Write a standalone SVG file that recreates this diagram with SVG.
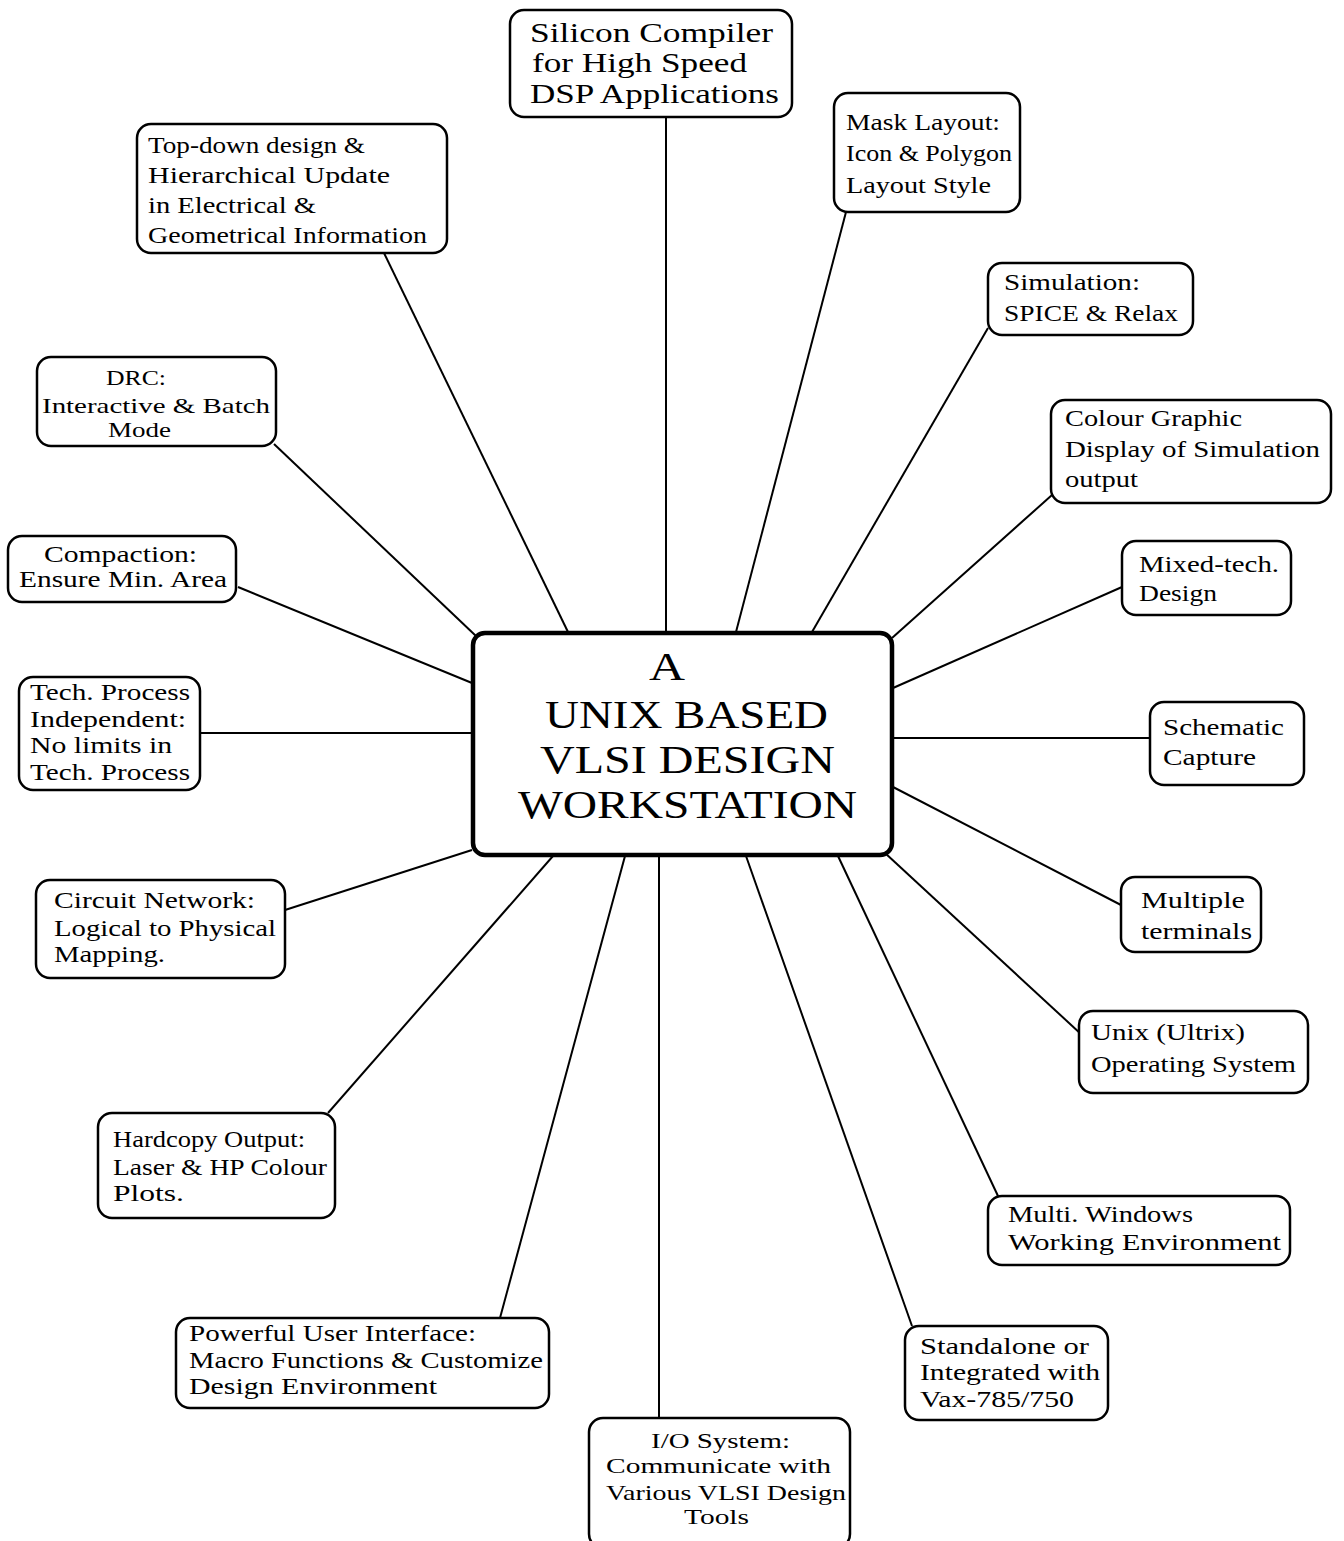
<svg xmlns="http://www.w3.org/2000/svg" width="1344" height="1541" viewBox="0 0 1344 1541">
  <style>
    .bg { fill: #ffffff; }
    .node rect { fill: #ffffff; stroke: #000000; stroke-width: 2.5; }
    .hub rect { fill: #ffffff; stroke: #000000; stroke-width: 4.5; }
    .edges line { stroke: #000000; stroke-width: 2; fill: none; }
    text { font-family: "Liberation Serif", "DejaVu Serif", serif; fill: #000000; }
    .lbl { font-size: 24px; }
    .lbl-sm { font-size: 22px; }
    .lbl-big { font-size: 27px; }
    .title { font-size: 40px; }
  </style>
  <rect class="bg" x="0" y="0" width="1344" height="1541"/>

  <!-- connectors: each spoke runs from a feature box to the central workstation box -->
  <g id="connectors" class="edges">
    <line x1="666" y1="117" x2="666" y2="632"/>
    <line x1="384" y1="253" x2="568" y2="632"/>
    <line x1="846" y1="212" x2="736" y2="632"/>
    <line x1="988" y1="328" x2="812" y2="632"/>
    <line x1="1052" y1="495" x2="892" y2="638"/>
    <line x1="1122" y1="587" x2="893" y2="688"/>
    <line x1="892" y1="738" x2="1150" y2="738"/>
    <line x1="893" y1="787" x2="1121" y2="905"/>
    <line x1="885" y1="853" x2="1082" y2="1035"/>
    <line x1="838" y1="856" x2="998" y2="1196"/>
    <line x1="746" y1="856" x2="912" y2="1326"/>
    <line x1="659" y1="856" x2="659" y2="1418"/>
    <line x1="625" y1="856" x2="500" y2="1318"/>
    <line x1="553" y1="856" x2="328" y2="1113"/>
    <line x1="472" y1="850" x2="285" y2="910"/>
    <line x1="200" y1="733" x2="472" y2="733"/>
    <line x1="238" y1="587" x2="472" y2="683"/>
    <line x1="274" y1="444" x2="476" y2="636"/>
  </g>

  <!-- central hub -->
  <g id="hub" class="hub">
    <rect x="473" y="633" width="419" height="222" rx="12"/>
    <text class="title" x="649" y="680" textLength="36" lengthAdjust="spacingAndGlyphs">A</text>
    <text class="title" x="545" y="728" textLength="283" lengthAdjust="spacingAndGlyphs">UNIX BASED</text>
    <text class="title" x="540" y="773" textLength="295" lengthAdjust="spacingAndGlyphs">VLSI DESIGN</text>
    <text class="title" x="518" y="818" textLength="339" lengthAdjust="spacingAndGlyphs">WORKSTATION</text>
  </g>

  <g id="silicon-compiler" class="node">
    <rect x="510" y="10" width="282" height="107" rx="14"/>
    <text class="lbl-big" x="530" y="42" textLength="243" lengthAdjust="spacingAndGlyphs">Silicon Compiler</text>
    <text class="lbl-big" x="532" y="72" textLength="215" lengthAdjust="spacingAndGlyphs">for High Speed</text>
    <text class="lbl-big" x="530" y="103" textLength="249" lengthAdjust="spacingAndGlyphs">DSP Applications</text>
  </g>

  <g id="top-down" class="node">
    <rect x="137" y="124" width="310" height="129" rx="14"/>
    <text class="lbl" x="148" y="153" textLength="217" lengthAdjust="spacingAndGlyphs">Top-down design &amp;</text>
    <text class="lbl" x="148" y="183" textLength="242" lengthAdjust="spacingAndGlyphs">Hierarchical Update</text>
    <text class="lbl" x="148" y="213" textLength="168" lengthAdjust="spacingAndGlyphs">in Electrical &amp;</text>
    <text class="lbl" x="148" y="243" textLength="279" lengthAdjust="spacingAndGlyphs">Geometrical Information</text>
  </g>

  <g id="mask-layout" class="node">
    <rect x="834" y="93" width="186" height="119" rx="14"/>
    <text class="lbl" x="846" y="130" textLength="154" lengthAdjust="spacingAndGlyphs">Mask Layout:</text>
    <text class="lbl" x="846" y="161" textLength="166" lengthAdjust="spacingAndGlyphs">Icon &amp; Polygon</text>
    <text class="lbl" x="846" y="193" textLength="145" lengthAdjust="spacingAndGlyphs">Layout Style</text>
  </g>

  <g id="simulation" class="node">
    <rect x="988" y="263" width="205" height="72" rx="14"/>
    <text class="lbl" x="1004" y="290" textLength="136" lengthAdjust="spacingAndGlyphs">Simulation:</text>
    <text class="lbl" x="1004" y="321" textLength="174" lengthAdjust="spacingAndGlyphs">SPICE &amp; Relax</text>
  </g>

  <g id="colour-graphic" class="node">
    <rect x="1051" y="400" width="280" height="103" rx="14"/>
    <text class="lbl" x="1065" y="426" textLength="177" lengthAdjust="spacingAndGlyphs">Colour Graphic</text>
    <text class="lbl" x="1065" y="457" textLength="255" lengthAdjust="spacingAndGlyphs">Display of Simulation</text>
    <text class="lbl" x="1065" y="487" textLength="73" lengthAdjust="spacingAndGlyphs">output</text>
  </g>

  <g id="mixed-tech" class="node">
    <rect x="1122" y="541" width="169" height="74" rx="14"/>
    <text class="lbl" x="1139" y="572" textLength="140" lengthAdjust="spacingAndGlyphs">Mixed-tech.</text>
    <text class="lbl" x="1139" y="601" textLength="78" lengthAdjust="spacingAndGlyphs">Design</text>
  </g>

  <g id="schematic-capture" class="node">
    <rect x="1150" y="702" width="154" height="83" rx="14"/>
    <text class="lbl" x="1163" y="735" textLength="121" lengthAdjust="spacingAndGlyphs">Schematic</text>
    <text class="lbl" x="1163" y="765" textLength="93" lengthAdjust="spacingAndGlyphs">Capture</text>
  </g>

  <g id="multiple-terminals" class="node">
    <rect x="1121" y="877" width="140" height="75" rx="14"/>
    <text class="lbl" x="1141" y="908" textLength="104" lengthAdjust="spacingAndGlyphs">Multiple</text>
    <text class="lbl" x="1141" y="939" textLength="111" lengthAdjust="spacingAndGlyphs">terminals</text>
  </g>

  <g id="unix-ultrix" class="node">
    <rect x="1079" y="1011" width="229" height="82" rx="14"/>
    <text class="lbl" x="1091" y="1040" textLength="154" lengthAdjust="spacingAndGlyphs">Unix (Ultrix)</text>
    <text class="lbl" x="1091" y="1072" textLength="205" lengthAdjust="spacingAndGlyphs">Operating System</text>
  </g>

  <g id="multi-windows" class="node">
    <rect x="988" y="1196" width="302" height="69" rx="14"/>
    <text class="lbl" x="1008" y="1222" textLength="185" lengthAdjust="spacingAndGlyphs">Multi. Windows</text>
    <text class="lbl" x="1008" y="1250" textLength="273" lengthAdjust="spacingAndGlyphs">Working Environment</text>
  </g>

  <g id="standalone" class="node">
    <rect x="905" y="1326" width="203" height="94" rx="14"/>
    <text class="lbl" x="920" y="1354" textLength="169" lengthAdjust="spacingAndGlyphs">Standalone or</text>
    <text class="lbl" x="920" y="1380" textLength="180" lengthAdjust="spacingAndGlyphs">Integrated with</text>
    <text class="lbl" x="920" y="1407" textLength="154" lengthAdjust="spacingAndGlyphs">Vax-785/750</text>
  </g>

  <g id="io-system" class="node">
    <rect x="589" y="1418" width="261" height="130" rx="14"/>
    <text class="lbl-sm" x="651" y="1448" textLength="139" lengthAdjust="spacingAndGlyphs">I/O System:</text>
    <text class="lbl-sm" x="606" y="1473" textLength="225" lengthAdjust="spacingAndGlyphs">Communicate with</text>
    <text class="lbl-sm" x="606" y="1500" textLength="240" lengthAdjust="spacingAndGlyphs">Various VLSI Design</text>
    <text class="lbl-sm" x="684" y="1524" textLength="65" lengthAdjust="spacingAndGlyphs">Tools</text>
  </g>

  <g id="user-interface" class="node">
    <rect x="176" y="1318" width="373" height="90" rx="14"/>
    <text class="lbl" x="189" y="1341" textLength="287" lengthAdjust="spacingAndGlyphs">Powerful User Interface:</text>
    <text class="lbl" x="189" y="1368" textLength="354" lengthAdjust="spacingAndGlyphs">Macro Functions &amp; Customize</text>
    <text class="lbl" x="189" y="1394" textLength="248" lengthAdjust="spacingAndGlyphs">Design Environment</text>
  </g>

  <g id="hardcopy" class="node">
    <rect x="98" y="1113" width="237" height="105" rx="14"/>
    <text class="lbl" x="113" y="1147" textLength="192" lengthAdjust="spacingAndGlyphs">Hardcopy Output:</text>
    <text class="lbl" x="113" y="1175" textLength="214" lengthAdjust="spacingAndGlyphs">Laser &amp; HP Colour</text>
    <text class="lbl" x="113" y="1201" textLength="71" lengthAdjust="spacingAndGlyphs">Plots.</text>
  </g>

  <g id="circuit-network" class="node">
    <rect x="36" y="880" width="249" height="98" rx="14"/>
    <text class="lbl" x="54" y="908" textLength="201" lengthAdjust="spacingAndGlyphs">Circuit Network:</text>
    <text class="lbl" x="54" y="936" textLength="222" lengthAdjust="spacingAndGlyphs">Logical to Physical</text>
    <text class="lbl" x="54" y="962" textLength="111" lengthAdjust="spacingAndGlyphs">Mapping.</text>
  </g>

  <g id="tech-process" class="node">
    <rect x="19" y="677" width="181" height="113" rx="14"/>
    <text class="lbl" x="30" y="700" textLength="160" lengthAdjust="spacingAndGlyphs">Tech. Process</text>
    <text class="lbl" x="30" y="727" textLength="156" lengthAdjust="spacingAndGlyphs">Independent:</text>
    <text class="lbl" x="30" y="753" textLength="142" lengthAdjust="spacingAndGlyphs">No limits in</text>
    <text class="lbl" x="30" y="780" textLength="160" lengthAdjust="spacingAndGlyphs">Tech. Process</text>
  </g>

  <g id="compaction" class="node">
    <rect x="8" y="536" width="228" height="66" rx="14"/>
    <text class="lbl" x="44" y="562" textLength="153" lengthAdjust="spacingAndGlyphs">Compaction:</text>
    <text class="lbl" x="19" y="587" textLength="208" lengthAdjust="spacingAndGlyphs">Ensure Min. Area</text>
  </g>

  <g id="drc" class="node">
    <rect x="37" y="357" width="239" height="89" rx="14"/>
    <text class="lbl-sm" x="106" y="385" textLength="60" lengthAdjust="spacingAndGlyphs">DRC:</text>
    <text class="lbl-sm" x="42" y="413" textLength="228" lengthAdjust="spacingAndGlyphs">Interactive &amp; Batch</text>
    <text class="lbl-sm" x="108" y="437" textLength="63" lengthAdjust="spacingAndGlyphs">Mode</text>
  </g>
</svg>
